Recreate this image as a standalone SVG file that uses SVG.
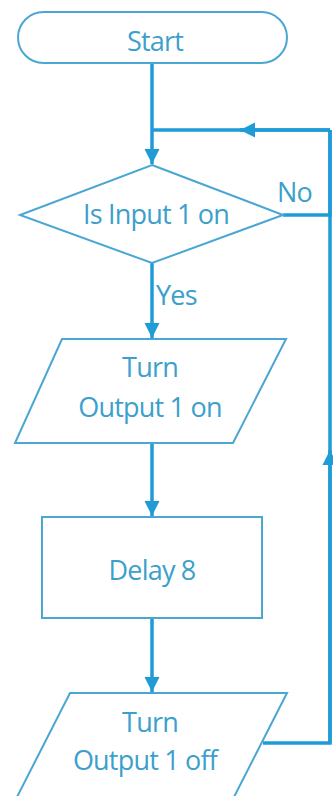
<svg xmlns="http://www.w3.org/2000/svg" width="333" height="796" viewBox="0 0 333 796">
<defs>
<style>
.shape{fill:#ffffff;stroke:#4aa6d2;stroke-width:2}
.conn{fill:none;stroke:#1f9bd7;stroke-width:3.5}
.t{font-family:"Open Sans","Noto Sans",sans-serif;font-size:27px;fill:#3c9fcc;text-anchor:middle;letter-spacing:-0.8px}
.lbl{font-family:"Open Sans","Noto Sans",sans-serif;font-size:27px;fill:#3c9fcc;letter-spacing:-0.8px}
</style>
<marker id="ah" viewBox="0 0 10 10" refX="10" refY="5" markerWidth="4.3" markerHeight="4.3" orient="auto" markerUnits="strokeWidth">
<path d="M0,0 L10,5 L0,10 z" fill="#1f9bd7"/>
</marker>
</defs>
<rect width="333" height="796" fill="#ffffff"/>
<g id="connectors">
<path class="conn" d="M152,63 V164" marker-end="url(#ah)"/>
<path class="conn" d="M330,130 H152"/>
<path class="conn" d="M330,130 H240" marker-end="url(#ah)"/>
<path class="conn" d="M283,215 H330 V130"/>
<path class="conn" d="M263,743 H330 V130"/>
<path class="conn" d="M330,743 V450" marker-end="url(#ah)"/>
<path class="conn" d="M152,263 V338" marker-end="url(#ah)"/>
<path class="conn" d="M152,443 V516" marker-end="url(#ah)"/>
<path class="conn" d="M152,618 V692" marker-end="url(#ah)"/>
<text class="lbl" x="277" y="202">No</text>
<text class="lbl" x="156" y="305">Yes</text>
</g>
<g id="start">
<rect class="shape" x="18" y="12" width="269" height="51" rx="25.5"/>
<text class="t" x="155" y="51">Start</text>
</g>
<g id="decision">
<polygon class="shape" points="152,165 283,215 152,263 20,215"/>
<text class="t" x="156" y="224">Is Input 1 on</text>
</g>
<g id="output-on">
<polygon class="shape" points="62,339 286,339 233,443 15,443"/>
<text class="t" x="150" y="377">Turn</text>
<text class="t" x="150" y="417">Output 1 on</text>
</g>
<g id="delay">
<rect class="shape" x="42" y="517" width="220" height="101"/>
<text class="t" x="152" y="580">Delay 8</text>
</g>
<g id="output-off">
<polygon class="shape" points="70,693 287,693 234,797 17,797"/>
<text class="t" x="150" y="732">Turn</text>
<text class="t" x="145" y="770">Output 1 off</text>
</g>
</svg>
